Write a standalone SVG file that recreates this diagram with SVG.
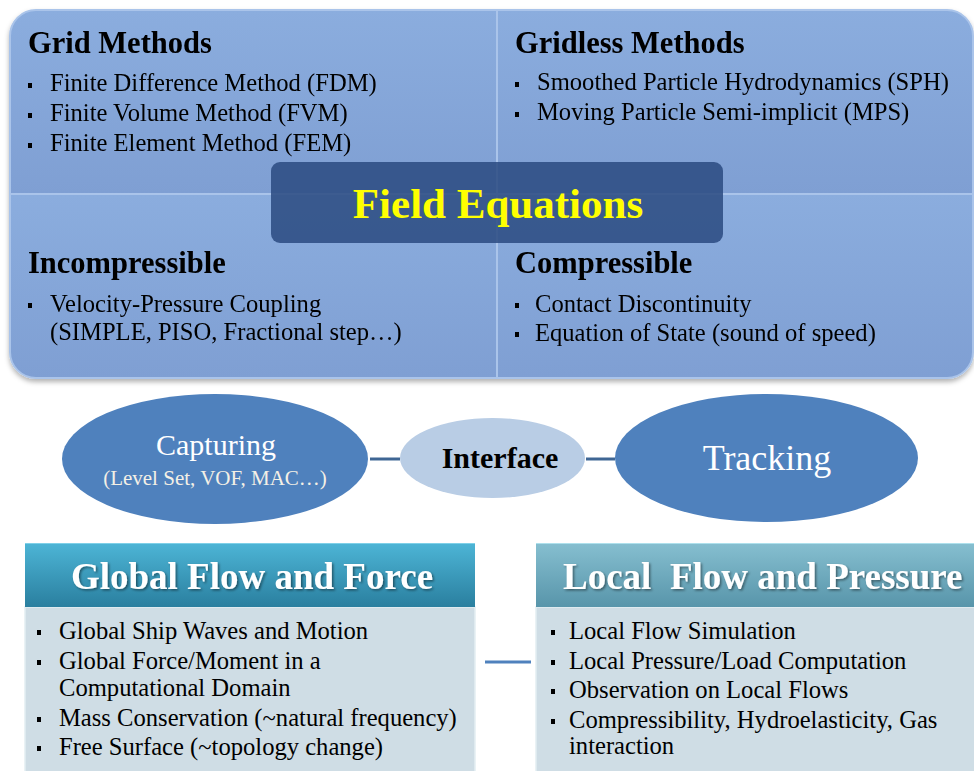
<svg xmlns="http://www.w3.org/2000/svg" width="974" height="771" viewBox="0 0 974 771">
<defs>
<linearGradient id="quad" x1="0" y1="0" x2="0" y2="1">
<stop offset="0" stop-color="#8badde"/>
<stop offset="1" stop-color="#7f9fd3"/>
</linearGradient>
<linearGradient id="hdrG" x1="0" y1="0" x2="0" y2="1">
<stop offset="0" stop-color="#4db5d6"/>
<stop offset="1" stop-color="#2a7f9f"/>
</linearGradient>
<linearGradient id="hdrL" x1="0" y1="0" x2="0" y2="1">
<stop offset="0" stop-color="#86bfd0"/>
<stop offset="1" stop-color="#5895aa"/>
</linearGradient>
<filter id="sh" x="-5%" y="-5%" width="110%" height="115%">
<feDropShadow dx="0" dy="3" stdDeviation="2.5" flood-color="#000" flood-opacity="0.3"/>
</filter>
<filter id="tsh" x="-5%" y="-20%" width="110%" height="150%">
<feDropShadow dx="1.5" dy="1.5" stdDeviation="1" flood-color="#000" flood-opacity="0.45"/>
</filter>
</defs>
<style>
.quad{fill:url(#quad);stroke:#aac4ea;stroke-width:2}
.h{font-family:"Liberation Serif",serif;font-weight:bold;font-size:30.5px;fill:#000}
.t{font-family:"Liberation Serif",serif;font-size:24.6px;fill:#000}
.b{fill:#000}
.ell{fill:#4f81bd}
.conn{stroke:#3f6694;stroke-width:3;fill:none}
.hdr{font-family:"Liberation Serif",serif;font-weight:bold;font-size:37px;fill:#fff}
.body{fill:#cfdde5;stroke:#e4eef2;stroke-width:1.5}
</style>
<rect width="974" height="771" fill="#fff"/>

<g id="panel" filter="url(#sh)">
<g id="grid">
<path class="quad" d="M10,36 A26,26 0 0 1 36,10 H497 V194 H10 Z"/>
<text class="h" x="28" y="53">Grid Methods</text>
<rect class="b" x="28" y="83" width="4" height="5"/>
<text class="t" x="50" y="91">Finite Difference Method (FDM)</text>
<rect class="b" x="28" y="113" width="4" height="5"/>
<text class="t" x="50" y="121">Finite Volume Method (FVM)</text>
<rect class="b" x="28" y="143" width="4" height="5"/>
<text class="t" x="50" y="151">Finite Element Method (FEM)</text>
</g>
<g id="gridless">
<path class="quad" d="M497,10 H947 A26,26 0 0 1 973,36 V194 H497 Z"/>
<text class="h" x="515" y="53">Gridless Methods</text>
<rect class="b" x="515" y="82" width="4" height="5"/>
<text class="t" x="537" y="90">Smoothed Particle Hydrodynamics (SPH)</text>
<rect class="b" x="515" y="112" width="4" height="5"/>
<text class="t" x="537" y="120">Moving Particle Semi-implicit (MPS)</text>
</g>
<g id="incompressible">
<path class="quad" d="M10,194 H497 V378 H36 A26,26 0 0 1 10,352 Z"/>
<text class="h" x="28" y="273">Incompressible</text>
<rect class="b" x="28" y="303" width="4" height="5"/>
<text class="t" x="50" y="312">Velocity-Pressure Coupling</text>
<text class="t" x="50" y="340">(SIMPLE, PISO, Fractional step…)</text>
</g>
<g id="compressible">
<path class="quad" d="M497,194 H973 V352 A26,26 0 0 1 947,378 H497 Z"/>
<text class="h" x="515" y="273">Compressible</text>
<rect class="b" x="515" y="303" width="4" height="5"/>
<text class="t" x="535" y="312">Contact Discontinuity</text>
<rect class="b" x="515" y="332" width="4" height="5"/>
<text class="t" x="535" y="341">Equation of State (sound of speed)</text>
</g>
</g>

<g id="field-equations">
<rect x="271" y="162" width="452" height="81" rx="9" fill="#2a4a80" fill-opacity="0.85"/>
<text x="498" y="218" text-anchor="middle" font-family="Liberation Serif, serif" font-weight="bold" font-size="43" fill="#ffff00">Field Equations</text>
</g>

<g id="connectors">
<line class="conn" x1="370" y1="459" x2="400" y2="459"/>
<line class="conn" x1="586" y1="459" x2="615" y2="459"/>
<line x1="485" y1="662" x2="531" y2="662" stroke="#4f81bd" stroke-width="3"/>
</g>

<g id="capturing">
<ellipse class="ell" cx="215" cy="459" rx="153" ry="65"/>
<text x="216" y="455" text-anchor="middle" font-family="Liberation Serif, serif" font-size="30" fill="#fff">Capturing</text>
<text x="215" y="485" text-anchor="middle" font-family="Liberation Serif, serif" font-size="21" fill="#f4f0e6">(Level Set, VOF, MAC…)</text>
</g>
<g id="interface">
<ellipse cx="492.5" cy="458" rx="92.5" ry="40" fill="#b9cde5"/>
<text x="500" y="468" text-anchor="middle" font-family="Liberation Serif, serif" font-weight="bold" font-size="30" fill="#000">Interface</text>
</g>
<g id="tracking">
<ellipse class="ell" cx="766.5" cy="458" rx="151.5" ry="64"/>
<text x="767" y="470" text-anchor="middle" font-family="Liberation Serif, serif" font-size="36" fill="#fff">Tracking</text>
</g>

<g id="global">
<rect class="body" x="25" y="607" width="450" height="175"/>
<rect x="25" y="543" width="450" height="64" fill="url(#hdrG)"/>
<line x1="25" y1="543.5" x2="475" y2="543.5" stroke="#7fd0e8" stroke-width="1"/>
<text class="hdr" x="252" y="589" text-anchor="middle" filter="url(#tsh)">Global Flow and Force</text>
<rect class="b" x="37" y="630" width="4" height="5"/>
<text class="t" x="59" y="639">Global Ship Waves and Motion</text>
<rect class="b" x="37" y="660" width="4" height="5"/>
<text class="t" x="59" y="669">Global Force/Moment in a</text>
<text class="t" x="59" y="696">Computational Domain</text>
<rect class="b" x="37" y="717" width="4" height="5"/>
<text class="t" x="59" y="726">Mass Conservation (~natural frequency)</text>
<rect class="b" x="37" y="746" width="4" height="5"/>
<text class="t" x="59" y="755">Free Surface (~topology change)</text>
</g>

<g id="local">
<rect class="body" x="536" y="607" width="450" height="175"/>
<rect x="536" y="543" width="450" height="64" fill="url(#hdrL)"/>
<line x1="536" y1="543.5" x2="974" y2="543.5" stroke="#aee0ec" stroke-width="1"/>
<text class="hdr" x="563" y="589" filter="url(#tsh)" xml:space="preserve">Local  Flow and Pressure</text>
<rect class="b" x="551" y="630" width="4" height="5"/>
<text class="t" x="569" y="639">Local Flow Simulation</text>
<rect class="b" x="551" y="660" width="4" height="5"/>
<text class="t" x="569" y="669">Local Pressure/Load Computation</text>
<rect class="b" x="551" y="689" width="4" height="5"/>
<text class="t" x="569" y="698">Observation on Local Flows</text>
<rect class="b" x="551" y="719" width="4" height="5"/>
<text class="t" x="569" y="728">Compressibility, Hydroelasticity, Gas</text>
<text class="t" x="569" y="754">interaction</text>
</g>
</svg>
